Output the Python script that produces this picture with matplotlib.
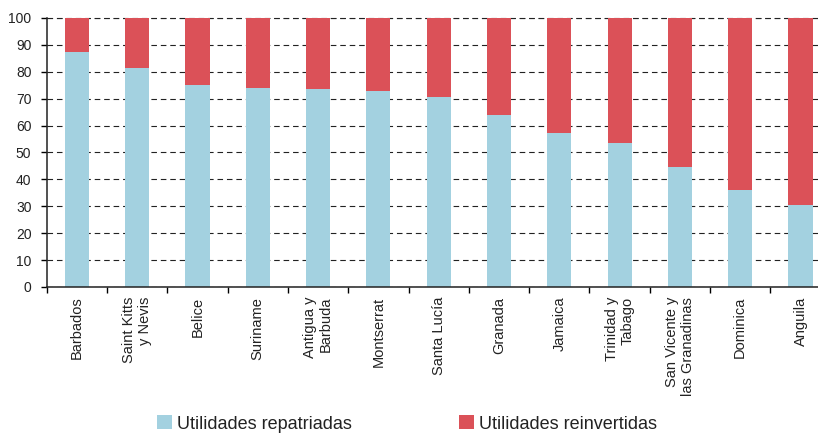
import matplotlib
matplotlib.use("Agg")
import matplotlib.pyplot as plt
from matplotlib.patches import Patch
import numpy as np

categories = ["Barbados", "Saint Kitts\ny Nevis", "Belice", "Suriname", "Antigua y\nBarbuda",
              "Montserrat", "Santa Lucía", "Granada", "Jamaica", "Trinidad y\nTabago",
              "San Vicente y\nlas Granadinas", "Dominica", "Anguila"]
repatriadas = [87.5, 81.3, 75.0, 74.0, 73.7, 72.9, 70.5, 63.9, 57.2, 53.5, 44.6, 36.1, 30.5]
reinvertidas = [100 - v for v in repatriadas]
series_names = ["Utilidades repatriadas", "Utilidades reinvertidas"]
yticks = [0, 10, 20, 30, 40, 50, 60, 70, 80, 90, 100]

blue = "#A3D1E0"
red = "#DB5158"

plt.rcParams['font.family'] = ['Liberation Sans', 'DejaVu Sans']

fig = plt.figure(figsize=(8.18, 4.34), dpi=100)
ax = fig.add_axes([46.7 / 818, 147 / 434, 784 / 818, 269 / 434])

x = np.arange(len(categories))
ax.bar(x, repatriadas, width=0.4, color=blue, zorder=2)
ax.bar(x, reinvertidas, width=0.4, bottom=repatriadas, color=red, zorder=2)

ax.set_xlim(-0.5, len(categories) - 0.5)
ax.set_ylim(0, 100)
ax.set_yticks(yticks)
ax.set_yticklabels([str(t) for t in yticks], fontsize=10, color="#222222")
ax.tick_params(axis='y', length=4, width=1, pad=7, direction='out')

ax.set_xticks(x)
ax.set_xticklabels(categories, rotation=90, fontsize=10.5, color="#222222",
                   ha='center', va='top', multialignment='right')
ax.tick_params(axis='x', which='major', length=0, pad=7)
ax.set_xticks(np.arange(-0.5, len(categories), 1), minor=True)
ax.tick_params(axis='x', which='minor', length=4, width=1, direction='out')

for s in ['top', 'right']:
    ax.spines[s].set_visible(False)
for s in ['left', 'bottom']:
    ax.spines[s].set_linewidth(1.1)
    ax.spines[s].set_color("#222222")

ax.set_axisbelow(True)
ax.yaxis.grid(True, color="#222222", linewidth=0.8, linestyle=(0, (5, 3.5)), zorder=0)
ax.axhline(100, color="#222222", linewidth=0.8, linestyle=(0, (5, 3.5)), zorder=0, clip_on=False)

handles = [Patch(facecolor=blue, edgecolor='none'), Patch(facecolor=red, edgecolor='none')]
fig.legend(handles, series_names, loc='center', bbox_to_anchor=(407 / 818, 1 - 424 / 434),
           ncol=2, frameon=False, prop={'family': 'Liberation Sans', 'size': 13},
           handlelength=0.83, handleheight=0.83,
           handletextpad=0.28, columnspacing=5.9, borderpad=0, labelcolor="#222222")

fig.savefig("out.png", dpi=100)
